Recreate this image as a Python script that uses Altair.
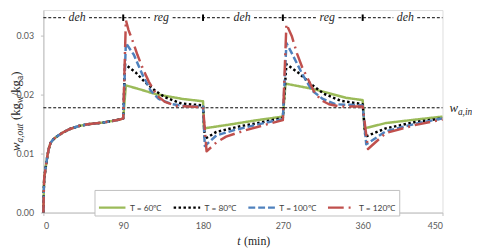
import altair as alt
import pandas as pd

# ---------------- data ----------------
SERIES = ["T = 60℃", "T = 80℃", "T = 100℃", "T = 120℃"]
COLORS = ["#9BBB59", "#000000", "#4F81BD", "#C0504D"]
DASHES = [[1, 0], [2.5, 2.5], [7, 3], [16, 5, 2, 5]]

# shared first dehumidification phase (0-90 min)
T_INIT = [0, 0.5, 1, 2, 3, 4.5, 6, 8, 11, 15, 22, 30, 40, 50, 68, 86, 90]
W_INIT = [0.0, 0.0040, 0.0060, 0.0070, 0.0081, 0.0096, 0.0108, 0.0118, 0.0124,
          0.0129, 0.0136, 0.0142, 0.0147, 0.0150, 0.0153, 0.0158, 0.0160]

T_60 = [93, 105, 127, 157, 180, 181, 208, 241, 270, 273, 304, 341, 360,
        362, 386, 420, 450]
W_60 = [0.0216, 0.0211, 0.0201, 0.0193, 0.0189, 0.0143, 0.0149, 0.0157, 0.0163,
        0.0219, 0.0210, 0.0195, 0.0191, 0.0143, 0.0152, 0.0158, 0.0163]

T_80 = [92, 104, 115, 126, 137, 156, 180, 182, 195, 220, 245, 270,
        274, 287, 302, 316, 335, 360, 363, 386, 420, 450]
W_80 = [0.0252, 0.0238, 0.0221, 0.0207, 0.0196, 0.0185, 0.0182, 0.0125, 0.0137,
        0.0146, 0.0153, 0.0161, 0.0252, 0.0238, 0.0218, 0.0202, 0.0190, 0.0184,
        0.0129, 0.0143, 0.0154, 0.0160]

T_100 = [93, 102, 111.5, 121, 130, 145, 160, 180, 182, 195, 215, 240, 270,
         274, 281, 292, 303, 315, 329, 360, 364, 386, 420, 450]
W_100 = [0.0288, 0.0268, 0.0235, 0.0207, 0.0193, 0.0184, 0.0181, 0.0180, 0.0113,
         0.0131, 0.0140, 0.0149, 0.0159, 0.0288, 0.0268, 0.0235, 0.0207, 0.0193,
         0.0184, 0.0182, 0.0116, 0.0138, 0.0151, 0.0160]

T_120 = [93, 96, 101, 106, 112, 119, 128, 137, 150, 180, 184, 195, 206, 228, 250,
         270, 274, 280, 286, 292, 298, 305, 313, 322, 335, 360, 366, 386, 420, 450]
W_120 = [0.0327, 0.0310, 0.0290, 0.0268, 0.0245, 0.0222, 0.0199, 0.0188, 0.0181,
         0.0179, 0.0104, 0.0119, 0.0129, 0.0140, 0.0149, 0.0157, 0.0320, 0.0300,
         0.0270, 0.0246, 0.0228, 0.0206, 0.0191, 0.0184, 0.0180, 0.0180, 0.0108,
         0.0135, 0.0149, 0.0158]

PHASE_BOUNDS = [90, 180, 270, 360]
PHASE_LABELS = ["deh", "reg", "deh", "reg", "deh"]
PHASE_LABEL_T = [38, 133, 224, 320, 408]
W_IN = 0.0178
TOP_LINE = 0.0331
X_TICKS = [0, 90, 180, 270, 360, 450]
Y_TICKS = [0.0, 0.01, 0.02, 0.03]

# ---------------- layout ----------------
W, H = 406, 206
X_MAX, Y_MAX = 450, 0.0344
PX_PER_T = W / X_MAX
SERIF = "Liberation Serif"
SANS = "Lato"

# Times-like advance widths (em) for composing mixed-style labels
REG = {' ': 0.25, '(': 0.333, ')': 0.333, 'k': 0.5, 'g': 0.5, '/': 0.278,
       'w': 0.722, 'a': 0.444, 'm': 0.778, 'i': 0.278, 'n': 0.5, 'd': 0.5,
       'e': 0.444, 'h': 0.5, 'r': 0.333}
ITA = {'w': 0.667, 'a': 0.5, ',': 0.25, 'o': 0.5, 'u': 0.5, 't': 0.278,
       'i': 0.278, 'n': 0.5, 'd': 0.5, 'e': 0.444, 'h': 0.5, 'r': 0.389, 'g': 0.5}


def text_width(s, size, italic):
    table = ITA if italic else REG
    return sum(table.get(c, 0.5) for c in s) * size


rows = []
for name, ts, ws in zip(SERIES, [T_60, T_80, T_100, T_120],
                        [W_60, W_80, W_100, W_120]):
    for i, (t, w) in enumerate(zip(T_INIT + ts, W_INIT + ws)):
        rows.append({"t": t, "w": w, "series": name, "i": i})
df = pd.DataFrame(rows)

x_scale = alt.Scale(domain=[0, X_MAX], nice=False, zero=False)
y_scale = alt.Scale(domain=[0, Y_MAX], nice=False, zero=False)
color_scale = alt.Scale(domain=SERIES, range=COLORS)
dash_scale = alt.Scale(domain=SERIES, range=DASHES)

legend = alt.Legend(
    title=None, orient="none", legendX=52, legendY=183, direction="horizontal",
    fillColor="white", strokeColor="#bfbfbf", padding=3,
    symbolType="stroke", symbolSize=729, symbolStrokeWidth=2.5,
    labelFont=SANS, labelFontSize=8.5, labelColor="#404040",
    labelOffset=3, columnPadding=6,
)

x_axis = alt.Axis(values=X_TICKS, title=None, grid=False, labelFont=SANS,
                  labelFontSize=9, labelColor="#595959", domainColor="#bfbfbf",
                  tickColor="#bfbfbf", tickSize=3, labelPadding=6)
y_axis = alt.Axis(values=Y_TICKS, format=".2f", title=None, grid=False,
                  labelFont=SANS, labelFontSize=9, labelColor="#595959",
                  domainColor="#bfbfbf", tickColor="#bfbfbf", tickSize=3,
                  labelPadding=7)

layers = []

# reference lines
win_df = pd.DataFrame({"x": [0], "x2": [X_MAX], "y": [W_IN]})
layers.append(
    alt.Chart(win_df).mark_rule(color="black", strokeWidth=1, strokeDash=[3, 2])
    .encode(x=alt.X("x:Q", scale=x_scale, axis=x_axis), x2="x2:Q",
            y=alt.Y("y:Q", scale=y_scale, axis=y_axis))
)

# top dashed phase line, broken around the labels
seg_rows = []
start = 0.0
for lab, tc in zip(PHASE_LABELS, PHASE_LABEL_T):
    half = (text_width(lab, 12, True) / 2 + 3.5) / PX_PER_T
    seg_rows.append({"x": start, "x2": tc - half, "y": TOP_LINE})
    start = tc + half
seg_rows.append({"x": start, "x2": X_MAX, "y": TOP_LINE})
layers.append(
    alt.Chart(pd.DataFrame(seg_rows)).mark_rule(color="black", strokeWidth=1,
                                                strokeDash=[3, 2])
    .encode(x=alt.X("x:Q", scale=x_scale), x2="x2:Q", y=alt.Y("y:Q", scale=y_scale))
)
tick_df = pd.DataFrame({"x": PHASE_BOUNDS})
layers.append(
    alt.Chart(tick_df).mark_rule(color="black", strokeWidth=2)
    .encode(x=alt.X("x:Q", scale=x_scale), y=alt.datum(TOP_LINE - 0.00055),
            y2=alt.datum(TOP_LINE + 0.00055))
)
lab_df = pd.DataFrame({"x": PHASE_LABEL_T, "label": PHASE_LABELS})
layers.append(
    alt.Chart(lab_df).mark_text(font=SERIF, fontSize=12, fontStyle="italic",
                                color="#262626", baseline="middle", dy=-1)
    .encode(x=alt.X("x:Q", scale=x_scale), y=alt.datum(TOP_LINE), text="label:N")
)

# data series (drawn in series order so later ones sit on top)
for name in SERIES:
    layers.append(
        alt.Chart(df).transform_filter(alt.datum.series == name)
        .mark_line(strokeWidth=2.5, strokeCap="butt", strokeJoin="round")
        .encode(
            x=alt.X("t:Q", scale=x_scale),
            y=alt.Y("w:Q", scale=y_scale),
            color=alt.Color("series:N", scale=color_scale, legend=legend),
            strokeDash=alt.StrokeDash("series:N", scale=dash_scale, legend=legend),
            order=alt.Order("i:Q"),
        )
    )

one = pd.DataFrame({"k": [0]})

# w_a,in label at the right of the inlet line
w_main = text_width("w", 13, True)
layers.append(
    alt.Chart(one).mark_text(text="w", font=SERIF, fontSize=13, fontStyle="italic",
                             align="left", baseline="alphabetic", dy=4,
                             color="#262626")
    .encode(x=alt.value(W + 7), y=alt.datum(W_IN))
)
layers.append(
    alt.Chart(one).mark_text(text="a,in", font=SERIF, fontSize=9.5,
                             fontStyle="italic", align="left",
                             baseline="alphabetic", dy=7, color="#262626")
    .encode(x=alt.value(W + 7 + w_main), y=alt.datum(W_IN))
)

# y axis title: w_{a,out} (kg_w/kg_a), rotated, composed from pieces
# (text, size, italic, subscript shift, gap after in px)
Y_PIECES = [("w", 13, True, 0, 0), ("a,out", 9.5, True, 3, 3.5),
            ("(kg", 13, False, 0, 0), ("w", 9.5, False, 3, 0),
            ("/kg", 13, False, 0, 0), ("a", 9.5, False, 3, 0),
            (")", 13, False, 0, 0)]
total = sum(text_width(s, sz, it) + g for s, sz, it, _, g in Y_PIECES)
pos = H / 2 + total / 2
for s, sz, it, sub, gap in Y_PIECES:
    layers.append(
        alt.Chart(one).mark_text(text=s, font=SERIF, fontSize=sz,
                                 fontStyle="italic" if it else "normal",
                                 angle=270, align="left", baseline="alphabetic",
                                 color="#262626")
        .encode(x=alt.value(-24 + sub), y=alt.value(pos))
    )
    pos -= text_width(s, sz, it) + gap

# x axis title: t (min)
X_PIECES = [("t", 12, True, 3.5), ("(min)", 12, False, 0)]
xtot = sum(text_width(s, sz, it) + g for s, sz, it, g in X_PIECES)
xpos = 214 - xtot / 2
for s, sz, it, gap in X_PIECES:
    layers.append(
        alt.Chart(one).mark_text(text=s, font=SERIF, fontSize=sz,
                                 fontStyle="italic" if it else "normal",
                                 align="left", baseline="alphabetic",
                                 color="#262626")
        .encode(x=alt.value(xpos), y=alt.value(H + 33))
    )
    xpos += text_width(s, sz, it) + gap

chart = (
    alt.layer(*layers)
    .properties(width=W, height=H,
                autosize=alt.AutoSizeParams(type="none"),
                padding={"left": 36, "top": 0, "right": 30, "bottom": 36})
    .configure_view(stroke="#d9d9d9", strokeWidth=1)
    .configure(background="white")
)

chart.save("out.html", embed_options={"renderer": "svg", "actions": False})
